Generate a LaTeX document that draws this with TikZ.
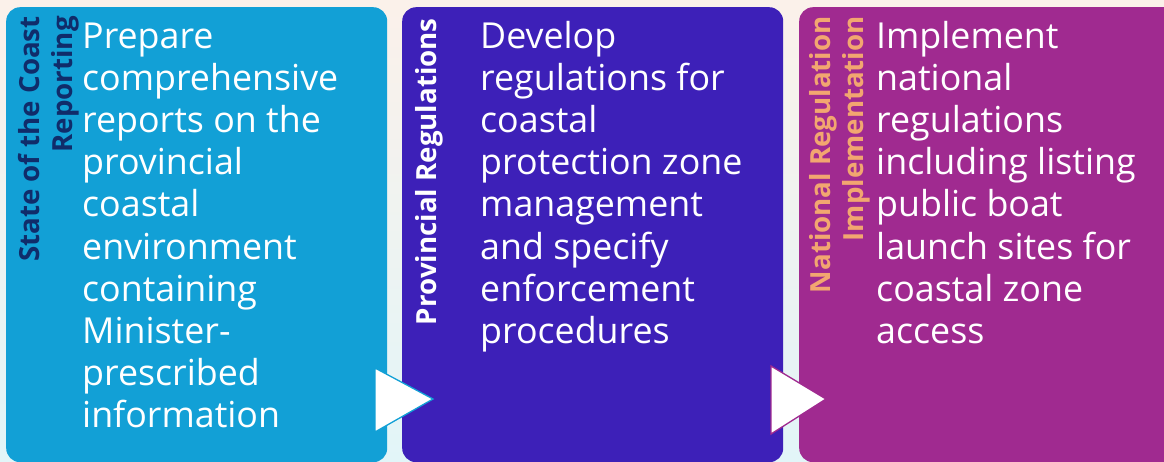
\documentclass[tikz,border=0pt]{standalone}
\usepackage{fontspec}
\setmainfont{Open Sans}
\setsansfont{Open Sans}

\definecolor{stepblue}{HTML}{12A0D6}
\definecolor{stepindigo}{HTML}{3D20B8}
\definecolor{stepmagenta}{HTML}{A02A90}
\definecolor{labelnavy}{HTML}{102C6A}
\definecolor{labelpeach}{HTML}{F2A670}
\definecolor{skytop}{HTML}{FBF1EA}
\definecolor{skybottom}{HTML}{E2F5F8}

% lines stacked with their own baselineskip; baseline = first line
\newcommand{\leftlines}[1]{\vtop{\halign{##\hfil\cr #1\crcr}}}
\newcommand{\rightlines}[1]{\vtop{\halign{\hfil##\cr #1\crcr}}}

\begin{document}
\begin{tikzpicture}[x=1pt,y=-1pt,
  panel/.style={rounded corners=14pt, minimum width=381pt, minimum height=455pt,
    anchor=north west, inner sep=0pt, draw=none},
  bodytext/.style={anchor=base west, inner sep=0pt, text=white,
    font=\fontsize{35.8}{42.2}\selectfont},
  sidelabel/.style={anchor=base east, inner sep=0pt, rotate=90,
    font=\fontsize{27.7}{33}\selectfont\bfseries},
  chevron/.style={fill=white, line width=1.3pt, line join=miter}
]
\useasboundingbox (0,0) rectangle (1164,461);
\clip (0,0) rectangle (1164,461);

% backdrop
\shade[top color=skytop, bottom color=skybottom] (0,0) rectangle (1164,461);

% three step panels
\node[panel, fill=stepblue]    (p1) at (6,7)   {};
\node[panel, fill=stepindigo]  (p2) at (402,7) {};
\node[panel, fill=stepmagenta] (p3) at (799,7) {};

% side titles
\node[sidelabel, text=labelnavy] (t1) at (39,16)
  {\rightlines{State of the Coast\cr Reporting}};
\node[sidelabel, text=white] (t2) at (436,18)
  {Provincial Regulations};
\node[sidelabel, text=labelpeach] (t3) at (830,16)
  {\rightlines{National Regulation\cr Implementation}};

% descriptions
\node[bodytext] (d1) at (82,48) {\leftlines{Prepare\cr comprehensive\cr reports on the\cr
  provincial\cr coastal\cr environment\cr containing\cr Minister-\cr prescribed\cr information}};
\node[bodytext] (d2) at (480,48) {\leftlines{Develop\cr regulations for\cr coastal\cr
  protection zone\cr management\cr and specify\cr enforcement\cr procedures}};
\node[bodytext] (d3) at (876,48) {\leftlines{Implement\cr national\cr regulations\cr
  including listing\cr public boat\cr launch sites for\cr coastal zone\cr access}};

% flow chevrons between panels
\draw[chevron, draw=stepblue]    (375,368) -- (375,432) -- (433,399) -- cycle;
\draw[chevron, draw=stepmagenta] (771,366) -- (771,434) -- (826,399) -- cycle;
\end{tikzpicture}
\end{document}
